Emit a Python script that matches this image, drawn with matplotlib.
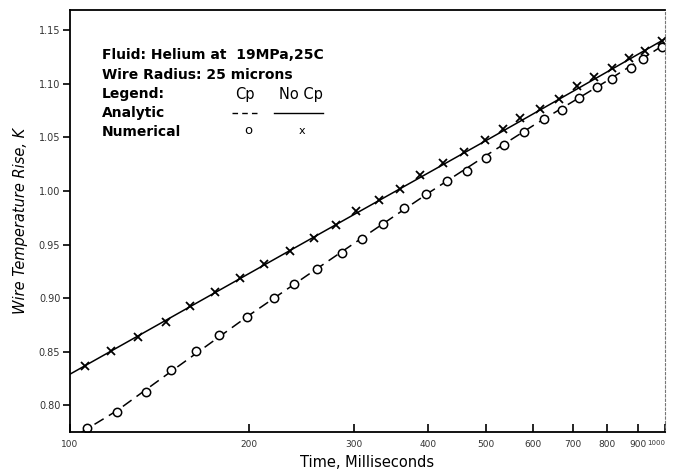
import numpy as np
import matplotlib
matplotlib.use("Agg")
import matplotlib.pyplot as plt
from matplotlib.lines import Line2D
from matplotlib.ticker import FixedLocator, FixedFormatter, NullLocator

# numerical results, with Cp (open circles)
t_cp = [107, 120, 134, 148, 163, 178, 198, 220, 238, 260, 286, 309, 336, 364,
        396, 430, 464, 500, 536, 579, 626, 671, 717, 768, 814, 877, 918, 988]
dT_cp = [0.779, 0.794, 0.812, 0.833, 0.851, 0.866, 0.882, 0.900, 0.913, 0.927,
         0.942, 0.955, 0.969, 0.984, 0.997, 1.009, 1.019, 1.031, 1.043, 1.055,
         1.067, 1.076, 1.087, 1.097, 1.105, 1.115, 1.123, 1.134]

# numerical results, no Cp (crosses)
t_nocp = [106, 117, 130, 145, 159, 175, 193, 212, 234, 257, 280, 302, 330, 358,
          388, 423, 459, 498, 534, 570, 616, 663, 711, 759, 814, 870, 925, 988]
dT_nocp = [0.837, 0.851, 0.864, 0.878, 0.893, 0.906, 0.919, 0.932, 0.944, 0.956,
           0.968, 0.981, 0.992, 1.002, 1.015, 1.026, 1.036, 1.048, 1.058, 1.068,
           1.077, 1.086, 1.098, 1.106, 1.115, 1.124, 1.131, 1.140]

# analytic curves
t_an_cp = [104, 120, 150, 200, 250, 300, 400, 500, 600, 800, 1000]
dT_an_cp = [0.774, 0.795, 0.834, 0.884, 0.921, 0.951, 0.998, 1.033, 1.061, 1.103, 1.137]
t_an_nocp = [100, 200, 300, 500, 700, 1000]
dT_an_nocp = [0.829, 0.923, 0.978, 1.047, 1.093, 1.142]

xticks = [100, 200, 300, 400, 500, 600, 700, 800, 900, 1000]
yticks = [0.80, 0.85, 0.90, 0.95, 1.00, 1.05, 1.10, 1.15]

W, H = 675, 471
fig = plt.figure(figsize=(W / 100, H / 100), dpi=100)
ax = fig.add_axes([70 / W, 1 - 432 / H, 595 / W, 422 / H])

ax.plot(t_an_nocp, dT_an_nocp, color="black", lw=1.1)
ax.plot(t_an_cp, dT_an_cp, color="black", lw=1.1, dashes=(7, 4))
ax.plot(t_nocp, dT_nocp, ls="none", marker="x", ms=6, mew=1.3, color="black")
ax.plot(t_cp, dT_cp, ls="none", marker="o", ms=6, mew=1.1, mfc="white", mec="black")

ax.set_xscale("log")
ax.set_xlim(100, 1000)
ax.set_ylim(0.775, 1.169)
ax.xaxis.set_major_locator(FixedLocator(xticks))
ax.xaxis.set_major_formatter(FixedFormatter([str(v) for v in xticks]))
ax.xaxis.set_minor_locator(NullLocator())
ax.set_yticks(yticks)
ax.set_yticklabels(["%.2f" % v for v in yticks])

ax.tick_params(axis="x", direction="in", length=6, width=1.2, labelsize=6.5,
               pad=6, colors="black", labelcolor="#333333")
ax.tick_params(axis="y", direction="out", length=5, width=1.2, labelsize=7,
               pad=2, labelcolor="#333333")
# the last label sits at the right edge; make it smaller so it fits
last = ax.get_xticklabels()[-1]
last.set_fontsize(5)
last.set_horizontalalignment("right")
for side in ["left", "bottom", "top"]:
    ax.spines[side].set_linewidth(1.3)
ax.spines["right"].set_linewidth(0.8)
ax.spines["right"].set_color("#777777")
ax.spines["right"].set_linestyle((0, (2, 2)))

ax.set_xlabel("Time, Milliseconds", fontsize=10.5, labelpad=4)
ax.set_ylabel("Wire Temperature Rise, K", fontsize=10.5, style="italic", labelpad=8)

# annotation block
def fx(px):
    return px / W

def fy(py):
    return 1 - py / H

kw = dict(fontsize=10, fontweight="bold", va="center", ha="left")
fig.text(fx(102), fy(55), "Fluid: Helium at  19MPa,25C", **kw)
fig.text(fx(102), fy(75), "Wire Radius: 25 microns", **kw)
fig.text(fx(102), fy(94), "Legend:", **kw)
fig.text(fx(102), fy(113), "Analytic", **kw)
fig.text(fx(102), fy(132), "Numerical", **kw)
kw2 = dict(fontsize=10.5, va="center", ha="center")
fig.text(fx(245), fy(94), "Cp", **kw2)
fig.text(fx(301), fy(94), "No Cp", **kw2)
fig.text(fx(248), fy(131), "o", fontsize=9.5, va="center", ha="center")
fig.text(fx(302), fy(131), "x", fontsize=8, va="center", ha="center")
fig.add_artist(Line2D([fx(232), fx(258)], [fy(113), fy(113)], color="black",
                      lw=1.0, dashes=(4, 3)))
fig.add_artist(Line2D([fx(274), fx(323)], [fy(113), fy(113)], color="black", lw=1.0))

fig.savefig("out.png", dpi=100)
